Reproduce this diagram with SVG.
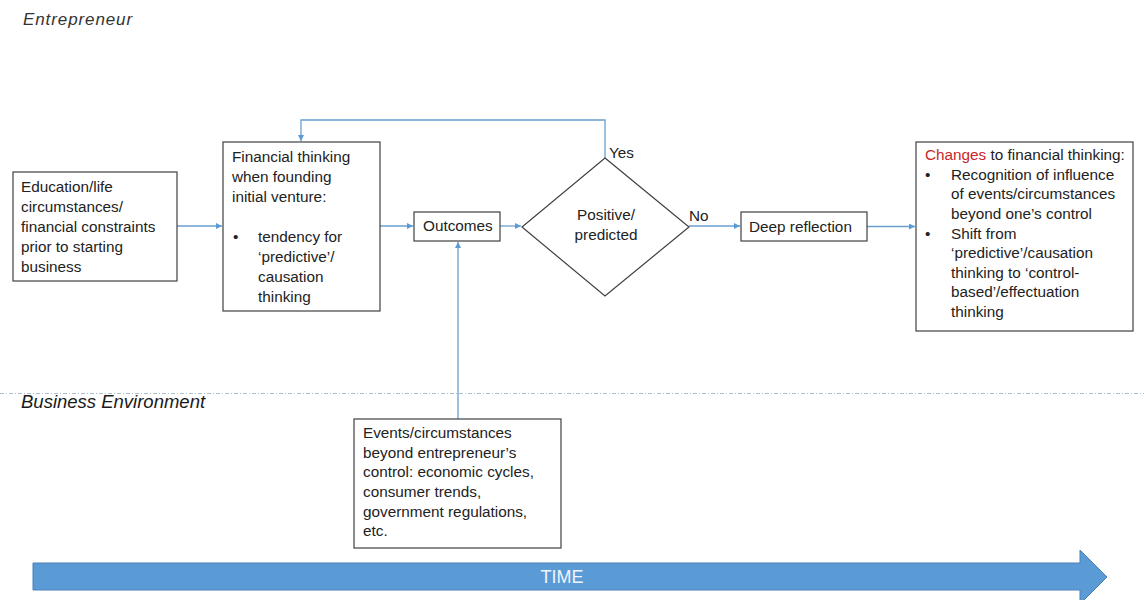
<svg xmlns="http://www.w3.org/2000/svg" width="1144" height="600" viewBox="0 0 1144 600">
<style>
.bx{fill:#fff;stroke:#404040;stroke-width:1.2}
.t{font-family:"Liberation Sans",Arial,sans-serif;font-size:15.3px;fill:#222}
.lane{font-family:"Liberation Sans",Arial,sans-serif;font-style:italic;font-size:17px;fill:#333}
.c{fill:none;stroke:#6a9fcf;stroke-width:1.3}
</style>
<defs>
<marker id="ah" viewBox="0 0 10 10" refX="10" refY="5" markerWidth="6" markerHeight="6" markerUnits="userSpaceOnUse" orient="auto">
<path d="M0,0 L10,5 L0,10 z" fill="#5b9bd5"/>
</marker>
</defs>
<rect width="1144" height="600" fill="#fff"/>
<text class="lane" x="23" y="25" letter-spacing="0.9">Entrepreneur</text>
<line x1="0" y1="393.5" x2="1144" y2="393.5" stroke="#a9bfd1" stroke-width="1" stroke-dasharray="4 2 1 2"/>
<text class="lane" x="21" y="408" style="font-size:18.5px;fill:#1a1a1a">Business Environment</text>

<g id="connectors">
<line class="c" x1="177" y1="226" x2="222" y2="226" marker-end="url(#ah)"/>
<line class="c" x1="380" y1="226" x2="413" y2="226" marker-end="url(#ah)"/>
<line class="c" x1="500" y1="226" x2="521" y2="226" marker-end="url(#ah)"/>
<line class="c" x1="689" y1="226" x2="740" y2="226" marker-end="url(#ah)"/>
<line class="c" x1="867" y1="226.5" x2="915" y2="226.5" marker-end="url(#ah)"/>
<polyline class="c" points="605,158 605,120 301,120 301,141" marker-end="url(#ah)"/>
<line class="c" x1="458" y1="419" x2="458" y2="242" marker-end="url(#ah)"/>
<text class="t" x="609" y="158">Yes</text>
<text class="t" x="689" y="221">No</text>
</g>

<g id="education">
<rect class="bx" x="13" y="172" width="164" height="109"/>
<text class="t" x="21" y="192">Education/life</text>
<text class="t" x="21" y="212">circumstances/</text>
<text class="t" x="21" y="232">financial constraints</text>
<text class="t" x="21" y="252">prior to starting</text>
<text class="t" x="21" y="272">business</text>
</g>

<g id="financial-thinking">
<rect class="bx" x="223" y="142" width="157" height="169"/>
<text class="t" x="232" y="162">Financial thinking</text>
<text class="t" x="232" y="182">when founding</text>
<text class="t" x="232" y="202">initial venture:</text>
<text class="t" x="233" y="242">•</text>
<text class="t" x="258" y="242">tendency for</text>
<text class="t" x="258" y="262">‘predictive’/</text>
<text class="t" x="258" y="282">causation</text>
<text class="t" x="258" y="302">thinking</text>
</g>

<g id="outcomes">
<rect class="bx" x="414" y="212" width="86" height="29"/>
<text class="t" x="423" y="231">Outcomes</text>
</g>

<g id="decision">
<polygon class="bx" points="605,158 689,227 605,296 522,227"/>
<text class="t" x="606" y="220" text-anchor="middle">Positive/</text>
<text class="t" x="606" y="240" text-anchor="middle">predicted</text>
</g>

<g id="deep-reflection">
<rect class="bx" x="741" y="212" width="126" height="29"/>
<text class="t" x="749" y="232">Deep reflection</text>
</g>

<g id="changes">
<rect class="bx" x="916" y="142" width="217" height="189"/>
<text class="t" x="925" y="160"><tspan fill="#c62828">Changes</tspan> to financial thinking:</text>
<text class="t" x="925" y="179.5">•</text>
<text class="t" x="951" y="179.5">Recognition of influence</text>
<text class="t" x="951" y="199">of events/circumstances</text>
<text class="t" x="951" y="219">beyond one’s control</text>
<text class="t" x="925" y="238.5">•</text>
<text class="t" x="951" y="238.5">Shift from</text>
<text class="t" x="951" y="258">‘predictive’/causation</text>
<text class="t" x="951" y="278">thinking to ‘control-</text>
<text class="t" x="951" y="297">based’/effectuation</text>
<text class="t" x="951" y="317">thinking</text>
</g>

<g id="events">
<rect class="bx" x="354" y="419" width="207" height="129"/>
<text class="t" x="363" y="438">Events/circumstances</text>
<text class="t" x="363" y="458">beyond entrepreneur’s</text>
<text class="t" x="363" y="477">control: economic cycles,</text>
<text class="t" x="363" y="497">consumer trends,</text>
<text class="t" x="363" y="517">government regulations,</text>
<text class="t" x="363" y="536">etc.</text>
</g>

<g id="time">
<polygon points="33,563 1080,563 1080,550 1107,577 1080,604 1080,590 33,590" fill="#5b9bd5" stroke="#4a80b8" stroke-width="1"/>
<text x="562" y="583" text-anchor="middle" font-family="Liberation Sans,Arial,sans-serif" font-size="18" fill="#eef4fb">TIME</text>
</g>
</svg>
